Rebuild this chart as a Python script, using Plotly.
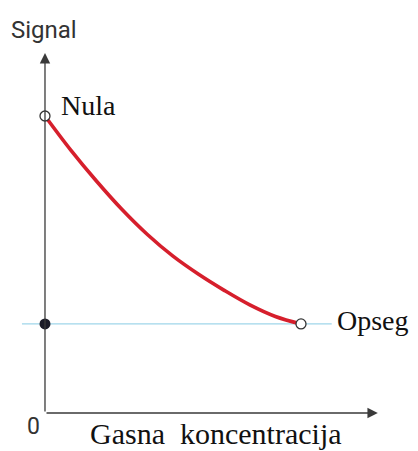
import plotly.graph_objects as go

# Curve: signal vs gas concentration (arbitrary units)
conc = [0, 1, 2, 3, 4, 5, 6, 7, 8, 9, 10]
signal = [10.0, 8.86, 7.82, 6.86, 6.01, 5.28, 4.67, 4.13, 3.64, 3.25, 3.0]

zero_point = (0, 10.0)      # "Nula"
span_point = (10, 3.0)      # "Opseg"
span_level = 3.0
span_line_x = [-0.9, 11.2]

x_tip = 13.0
y_tip = 12.12

labels = {"y": "Signal", "x": "Gasna\u00a0 koncentracija", "zero": "Nula", "span": "Opseg", "origin": "0"}

fig = go.Figure()

fig.add_trace(go.Scatter(x=span_line_x, y=[span_level, span_level], mode="lines",
                         line=dict(color="#9fd6ea", width=1.2), hoverinfo="skip"))
fig.add_trace(go.Scatter(x=conc, y=signal, mode="lines", line=dict(color="#d61f2c", width=3.6, shape="spline"),
                         hoverinfo="skip"))

axis_col = "#3a3a3a"
fig.add_annotation(x=x_tip, y=0, ax=0, ay=0, xref="x", yref="y", axref="x", ayref="y", text="",
                   showarrow=True, arrowhead=2, arrowsize=1.6, arrowwidth=1.3, arrowcolor=axis_col, standoff=0)
fig.add_annotation(x=0, y=y_tip, ax=0, ay=0, xref="x", yref="y", axref="x", ayref="y", text="",
                   showarrow=True, arrowhead=2, arrowsize=1.6, arrowwidth=1.3, arrowcolor=axis_col, standoff=0)

fig.add_trace(go.Scatter(x=[zero_point[0], span_point[0]], y=[zero_point[1], span_point[1]], mode="markers",
                         marker=dict(size=10, color="white", line=dict(color="#333333", width=1.3)), hoverinfo="skip"))
fig.add_trace(go.Scatter(x=[0], y=[span_level], mode="markers",
                         marker=dict(size=11, color="#1c1c28"), hoverinfo="skip"))

serif = "Liberation Serif, Times New Roman, serif"
sans = "Liberation Sans Narrow, Roboto, sans-serif"
fig.add_annotation(x=0, y=y_tip, xref="x", yref="y", text=labels["y"], showarrow=False,
                   xshift=-1, yshift=23, font=dict(family=sans, size=24, color="#333333"))
fig.add_annotation(x=zero_point[0], y=zero_point[1], xref="x", yref="y", text=labels["zero"], showarrow=False,
                   xanchor="left", xshift=14, yshift=11, font=dict(family=serif, size=28, color="#111111"))
fig.add_annotation(x=span_point[0], y=span_point[1], xref="x", yref="y", text=labels["span"], showarrow=False,
                   xanchor="left", xshift=34, yshift=3, font=dict(family=serif, size=28, color="#111111"))
fig.add_annotation(x=0, y=0, xref="x", yref="y", text=labels["origin"], showarrow=False,
                   xshift=-11, yshift=-13, font=dict(family=sans, size=23, color="#333333"))
fig.add_annotation(x=6.66, y=0, xref="x", yref="y", text=labels["x"], showarrow=False,
                   yshift=-20, font=dict(family=serif, size=30, color="#111111"))

# page body has an 8px margin: size the figure to fill the rest of the window
fig.update_layout(width=410, height=443, autosize=False, margin=dict(l=0, r=0, t=0, b=0),
                  paper_bgcolor="white", plot_bgcolor="white", showlegend=False,
                  xaxis=dict(range=[-1.445, 14.57], visible=False),
                  yaxis=dict(range=[-1.279, 13.636], visible=False))
fig.write_html("out.html")
